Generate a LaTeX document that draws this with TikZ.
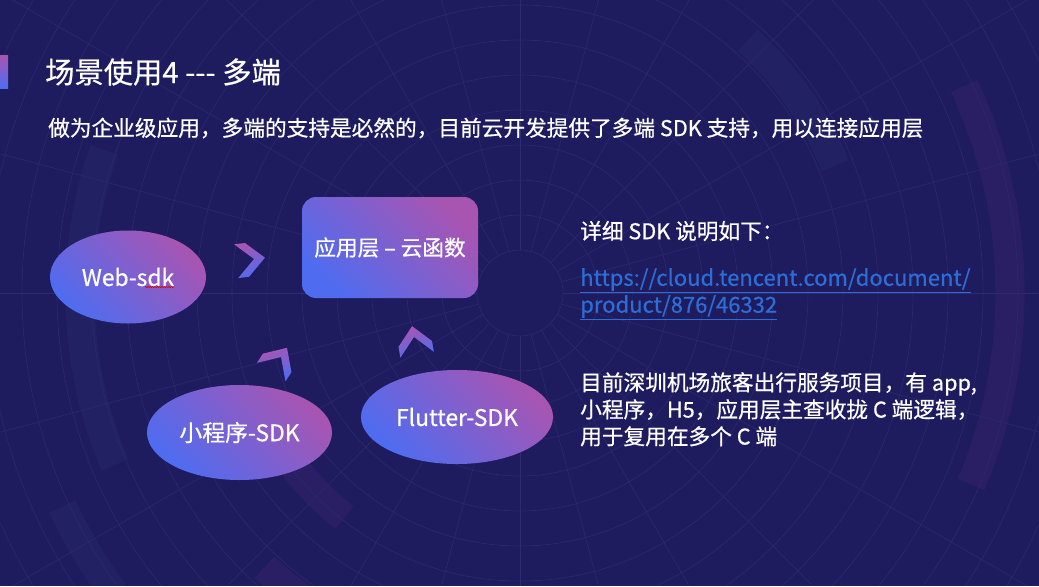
\documentclass[tikz,border=0pt]{standalone}
\usepackage{fontspec}
\setmainfont{Noto Sans CJK SC}[FakeBold=0.6]
\usetikzlibrary{positioning, shapes.geometric, decorations.pathmorphing}

\definecolor{bgnavy}{HTML}{1E1B5E}
\definecolor{gridline}{HTML}{2C2A70}
\definecolor{bandblue}{HTML}{222164}
\definecolor{bandpurple}{HTML}{2A1E64}
\definecolor{gpurple}{HTML}{A855B2}
\definecolor{gblue}{HTML}{4F6CF0}
\definecolor{linkblue}{HTML}{2E6ED4}

\tikzset{
  chev/.pic={
    \shade[top color=gpurple, bottom color=gblue, shading angle=20]
      (-18,-17) -- (-7,-17) -- (11,0) -- (-7,17) -- (-18,17) -- (0,0) -- cycle;
  }
}

\begin{document}
\begin{tikzpicture}[
    x=0.03cm, y=-0.03cm,
    grad/.style={top color=gpurple, bottom color=gblue, shading angle=-45},
    endpoint/.style={ellipse, grad, text=white, inner sep=0pt, font=\fontsize{19.5}{22}\selectfont},
    layerbox/.style={rectangle, rounded corners=12pt, grad, text=white, minimum width=5.28cm, minimum height=3.03cm, font=\fontsize{18.5}{22}\selectfont},
    bodytext/.style={text=white, inner sep=0pt, align=left, font=\fontsize{18.5}{23}\selectfont},
    band/.style={line width=25pt}
  ]

  % Background
  \useasboundingbox (0,0) rectangle (1039,586);
  \fill[bgnavy] (0,0) rectangle (1039,586);
  \begin{scope}
    \clip (0.5,0.5) rectangle (1038.5,585.5);
    \draw[band, bandpurple] (520,293) ++(-25:490) arc[start angle=-25, end angle=23, radius=490];
    \draw[band, bandblue] (520,293) ++(157:440) arc[start angle=157, end angle=199, radius=440];
    \draw[band, bandblue] (520,293) ++(-48:340) arc[start angle=-48, end angle=-22, radius=340];
    \draw[band, bandblue] (520,293) ++(135:505) arc[start angle=135, end angle=155, radius=505];
    \draw[band, bandpurple] (520,293) ++(128:285) arc[start angle=128, end angle=143, radius=285];
    \draw[band, bandpurple] (520,293) ++(118:375) arc[start angle=118, end angle=133, radius=375];
    \foreach \r in {43,78,...,780}
      \draw[gridline, line width=0.5pt] (520,293) circle[radius=\r];
    \foreach \a in {0,15,...,345}
      \draw[gridline, line width=0.5pt] (520,293) ++(\a:43) -- ++(\a:800);
  \end{scope}

  % Title
  \shade[top color=gpurple, bottom color=gblue] (0,55) rectangle (8,88);
  \node[text=white, inner sep=0pt, anchor=west, font=\fontsize{25}{29}\selectfont] (title) at (45,72) {场景使用4 -{}-{}- 多端};
  \node[bodytext, anchor=west] (intro) at (48,128) {做为企业级应用，多端的支持是必然的，目前云开发提供了多端 SDK 支持，用以连接应用层};

  % Nodes
  \node[layerbox] (layer) at (390,247.5) {应用层 – 云函数};
  \node[endpoint, minimum width=4.68cm, minimum height=2.79cm] (web) at (128,277) {Web-sdk};
  \node[endpoint, minimum width=5.55cm, minimum height=2.85cm] (mini) at (239.5,432.5) {小程序-SDK};
  \node[endpoint, minimum width=5.76cm, minimum height=2.82cm] (flutter) at (457,417) {Flutter-SDK};
  \draw[red!85!black, line width=0.5pt, decorate, decoration={zigzag, amplitude=0.6pt, segment length=2pt}]
    (web.center) ++(17,10) -- ++(29,0);

  % Chevrons
  \pic[rotate=7] at (254,259) {chev};
  \pic[rotate=57] at (281,357) {chev};
  \pic[rotate=100] at (414,337) {chev};

  % Right column
  \node[bodytext, anchor=west] (detail) at (580,231) {详细 SDK 说明如下：};
  \node[bodytext, text=linkblue, anchor=north west, font=\fontsize{18.8}{23}\selectfont] (link) at (580,268)
    {\underline{https://cloud.tencent.com/document/}\\\underline{product/876/46332}};
  \node[bodytext, anchor=north west] (note) at (580,372)
    {目前深圳机场旅客出行服务项目，有 app,\\小程序，H5，应用层主查收拢 C 端逻辑，\\用于复用在多个 C 端};

\end{tikzpicture}
\end{document}
